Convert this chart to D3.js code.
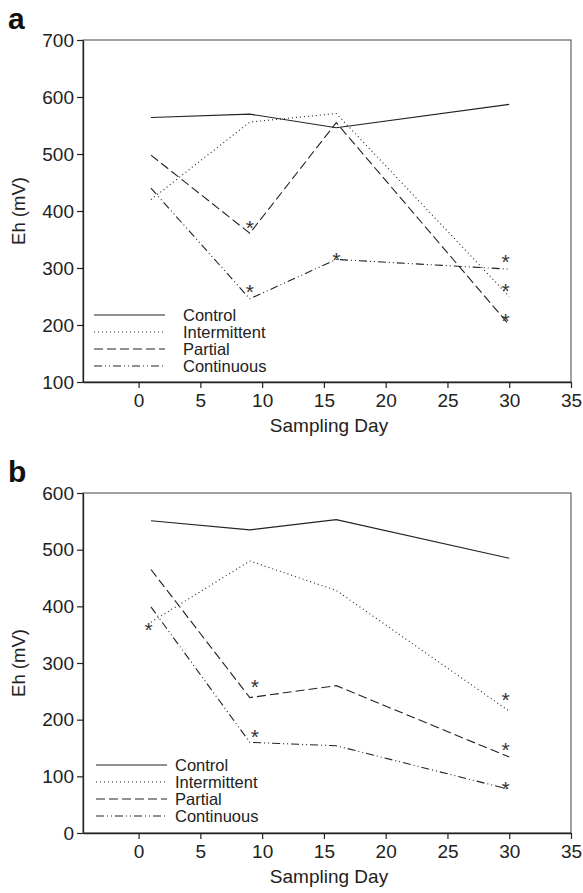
<!DOCTYPE html>
<html>
<head>
<meta charset="utf-8">
<script src="https://cdn.jsdelivr.net/npm/d3@7"></script>
<style>
  body { margin: 0; background: #fff; }
  svg { display: block; font-family: "Liberation Sans", Arial, sans-serif; }
</style>
</head>
<body>
<div id="chart"></div>
<script>
// sampling days (x values) shared by both panels
var days = [1, 9, 16, 30];
var seriesNames = ["Control", "Intermittent", "Partial", "Continuous"];

// panel a values (Eh, mV)
var controlA = [564, 570, 546, 587];
var intermittentA = [420, 556, 571, 250];
var partialA = [498, 361, 555, 200];
var continuousA = [440, 246, 315, 298];

// panel b values (Eh, mV)
var controlB = [551, 535, 553, 485];
var intermittentB = [372, 480, 428, 215];
var partialB = [465, 239, 260, 134];
var continuousB = [399, 160, 154, 77];

// significance asterisks (day, value)
var starDaysA = [9, 9, 16, 29.7, 29.7, 29.7];
var starValsA = [379, 267, 323, 320, 269, 216];
var starDaysB = [0.8, 9.4, 9.4, 29.7, 29.7, 29.7];
var starValsB = [367, 267, 178, 243, 156, 87];

var xTicks = [0, 5, 10, 15, 20, 25, 30, 35];
var yTicksA = [100, 200, 300, 400, 500, 600, 700];
var yTicksB = [0, 100, 200, 300, 400, 500, 600];

function init() {
    var w = 583, h = 893;
    var ink = "#222";

    // dash style per series
    var dashes = {
        "Control": null,
        "Intermittent": "1,3",
        "Partial": "9,4",
        "Continuous": "8,3,1,3,1,3"
    };

    var svg = d3.select("#chart").append("svg")
        .attr("width", w)
        .attr("height", h);

    drawPanel({
        label: "a", top: 40, bottom: 382, yDomain: [100, 700], yTicks: yTicksA,
        series: [controlA, intermittentA, partialA, continuousA],
        starDays: starDaysA, starVals: starValsA,
        legendX: 94, legendTextX: 183, legendY: 315
    });

    drawPanel({
        label: "b", top: 493, bottom: 833, yDomain: [0, 600], yTicks: yTicksB,
        series: [controlB, intermittentB, partialB, continuousB],
        starDays: starDaysB, starVals: starValsB,
        legendX: 96, legendTextX: 175, legendY: 765
    });

    function drawPanel(p) {
        var left = 83, right = 571;

        var x = d3.scaleLinear().domain([-4.5, 35]).range([left, right]);
        var y = d3.scaleLinear().domain(p.yDomain).range([p.bottom, p.top]);

        var g = svg.append("g");

        // frame (top and right edges)
        g.append("rect")
            .attr("x", left).attr("y", p.top)
            .attr("width", right - left).attr("height", p.bottom - p.top)
            .attr("fill", "none").attr("stroke", "#444").attr("stroke-width", 1);

        // Y axis
        var yAxis = g.append("g")
            .attr("transform", `translate(${left},0)`)
            .call(d3.axisLeft(y).tickValues(p.yTicks).tickSize(6).tickSizeOuter(0).tickPadding(3));
        // X axis
        var xAxis = g.append("g")
            .attr("transform", `translate(0,${p.bottom})`)
            .call(d3.axisBottom(x).tickValues(xTicks).tickSize(6).tickSizeOuter(0).tickPadding(6));

        [yAxis, xAxis].forEach(function(a) {
            a.select(".domain").attr("stroke", ink).attr("stroke-width", 1.3);
            a.selectAll(".tick line").attr("stroke", ink).attr("stroke-width", 1.2);
            a.selectAll(".tick text")
                .attr("fill", ink)
                .style("font-size", "19px")
                .style("font-family", "'Liberation Sans', Arial, sans-serif");
        });

        // panel letter
        g.append("text")
            .attr("x", 8).attr("y", p.top - 11)
            .style("font-size", "30px").style("font-weight", "bold")
            .attr("fill", "#111")
            .text(p.label);

        // Y axis label
        g.append("text")
            .attr("transform", `translate(25,${(p.top + p.bottom) / 2}) rotate(-90)`)
            .attr("text-anchor", "middle")
            .style("font-size", "18.5px").attr("fill", ink)
            .text("Eh (mV)");

        // X axis label
        g.append("text")
            .attr("x", (left + right) / 2 + 2)
            .attr("y", p.bottom + 50)
            .attr("text-anchor", "middle")
            .style("font-size", "19px").attr("fill", ink)
            .text("Sampling Day");

        // lines
        var line = d3.line()
            .x(function(d) { return x(d[0]); })
            .y(function(d) { return y(d[1]); });

        p.series.forEach(function(vals, i) {
            var pts = days.map(function(d, j) { return [d, vals[j]]; });
            g.append("path")
                .datum(pts)
                .attr("d", line)
                .attr("fill", "none")
                .attr("stroke", ink)
                .attr("stroke-width", 1.1)
                .attr("stroke-dasharray", dashes[seriesNames[i]]);
        });

        // asterisks
        g.selectAll(".star")
            .data(p.starDays.map(function(d, i) { return [d, p.starVals[i]]; }))
            .enter()
            .append("text")
            .attr("class", "star")
            .attr("x", function(d) { return x(d[0]); })
            .attr("y", function(d) { return y(d[1]) + 12; })
            .attr("text-anchor", "middle")
            .style("font-size", "21px")
            .attr("fill", "#333")
            .text("*");

        // legend
        var rowH = 17;
        seriesNames.forEach(function(name, i) {
            var ly = p.legendY + i * rowH;
            g.append("line")
                .attr("x1", p.legendX).attr("x2", p.legendX + 71)
                .attr("y1", ly).attr("y2", ly)
                .attr("stroke", ink).attr("stroke-width", 1.1)
                .attr("stroke-dasharray", dashes[name]);
            g.append("text")
                .attr("x", p.legendTextX).attr("y", ly)
                .attr("dy", "0.35em")
                .style("font-size", "16.5px").attr("fill", ink)
                .text(name);
        });
    }
}

window.onload = init;
</script>
</body>
</html>
